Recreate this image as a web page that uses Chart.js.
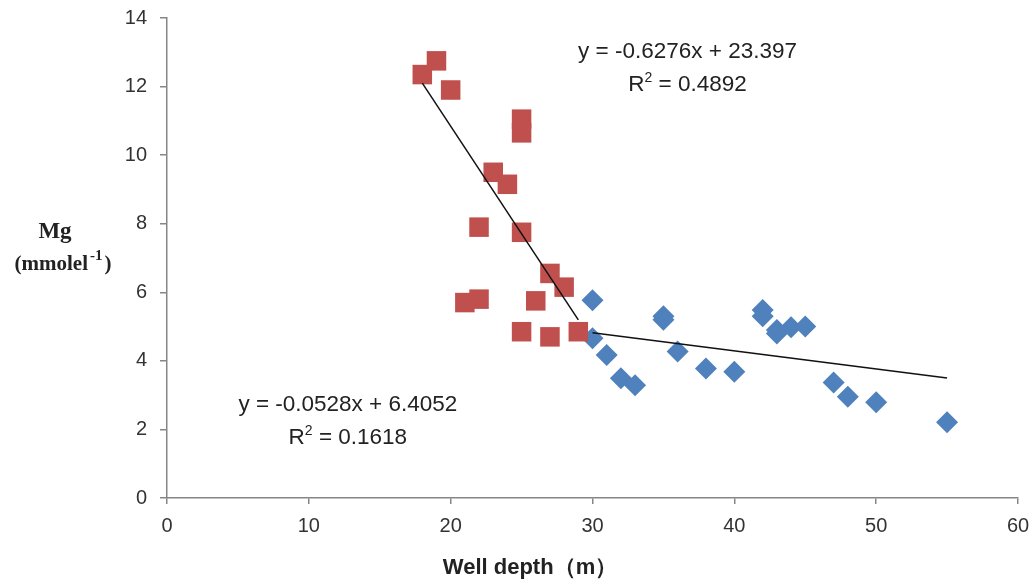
<!DOCTYPE html>
<html>
<head>
<meta charset="utf-8">
<script src="https://cdn.jsdelivr.net/npm/chart.js@4.4.0/dist/chart.umd.min.js"></script>
<style>
  html, body { margin: 0; padding: 0; background: #ffffff; }
  #wrap { width: 1036px; height: 586px; position: relative; }
</style>
</head>
<body>
<div id="wrap"><canvas id="c" width="1036" height="586"></canvas></div>
<script>
// ---- Data ----
const depthRed = [18, 19, 20, 25, 25, 23, 24, 22, 25, 27, 28, 21, 22, 26, 25, 27, 29];
const mgRed    = [12.35, 12.75, 11.9, 11.05, 10.65, 9.5, 9.15, 7.9, 7.75, 6.55, 6.15, 5.7, 5.8, 5.75, 4.85, 4.7, 4.85];

const depthBlue = [30, 30, 31, 32, 33, 35, 35, 36, 38, 40, 42, 42, 43, 43, 44, 45, 47, 48, 50, 55];
const mgBlue    = [5.77, 4.66, 4.17, 3.49, 3.29, 5.3, 5.2, 4.27, 3.78, 3.68, 5.48, 5.3, 4.9, 4.8, 4.98, 5.0, 3.37, 2.95, 2.79, 2.21];

// Trendline equations (as printed on the chart)
const trendRed  = { slope: -0.6276, intercept: 23.397, r2: '0.4892', from: 18, to: 29 };
const trendBlue = { slope: -0.0528, intercept: 6.4052, r2: '0.1618', from: 30, to: 55 };

const xTicks = [0, 10, 20, 30, 40, 50, 60];
const yTicks = [0, 2, 4, 6, 8, 10, 12, 14];

const xTitle = 'Well depth（m）';
const yTitleMain = 'Mg';

function pts(xs, ys) { return xs.map((x, i) => ({ x: x, y: ys[i] })); }
function trendPts(t) {
  return [t.from, t.to].map(x => ({ x: x, y: t.slope * x + t.intercept }));
}

const RED = '#C0504D';
const BLUE = '#4F81BD';
const AXIS = '#868686';
const TICKFONT = { family: "'Liberation Sans', Arial, sans-serif", size: 20 };
const EQF = "22.5px 'Liberation Sans', Arial, sans-serif";
const EQS = "14px 'Liberation Sans', Arial, sans-serif";

const labelsPlugin = {
  id: 'labels',
  afterDraw(chart) {
    const ctx = chart.ctx;
    const xs = chart.scales.x, ys = chart.scales.y;
    ctx.save();
    ctx.fillStyle = '#222';
    ctx.textBaseline = 'middle';

    function eq(t, cx, cy) {
      const s = 'y = ' + t.slope + 'x + ' + t.intercept;
      ctx.font = EQF;
      ctx.textAlign = 'center';
      ctx.fillText(s, cx, cy);
      // R² line
      const a = 'R', b = ' = ' + t.r2;
      const wa = ctx.measureText(a).width;
      ctx.font = EQS;
      const w2 = ctx.measureText('2').width;
      ctx.font = EQF;
      const wb = ctx.measureText(b).width;
      const tot = wa + w2 + wb;
      const x0 = cx - tot / 2;
      ctx.textAlign = 'left';
      ctx.fillText(a, x0, cy + 33);
      ctx.font = EQS;
      ctx.fillText('2', x0 + wa, cy + 26);
      ctx.font = EQF;
      ctx.fillText(b, x0 + wa + w2, cy + 33);
    }
    // Equation labels positioned relative to axis values
    eq(trendRed, xs.getPixelForValue(36.7), ys.getPixelForValue(13.0));
    eq(trendBlue, xs.getPixelForValue(12.75), ys.getPixelForValue(2.71));

    // X axis title
    ctx.font = "bold 22px 'Liberation Sans Narrow', 'Liberation Sans', Arial, sans-serif";
    ctx.fillStyle = '#222';
    ctx.textAlign = 'center';
    ctx.fillText(xTitle, 530, 568);

    // Y axis title (horizontal, serif bold)
    ctx.font = "bold 23px 'Liberation Serif', 'Times New Roman', serif";
    ctx.fillText(yTitleMain, 55, 232);
    ctx.textAlign = 'left';
    const p1 = '(mmolel', sup = '-1', p2 = ')';
    const F1 = "bold 21px 'Liberation Serif', 'Times New Roman', serif";
    const F2 = "bold 15px 'Liberation Serif', 'Times New Roman', serif";
    ctx.font = F1;
    const w1 = ctx.measureText(p1).width;
    ctx.font = F2;
    const ws = ctx.measureText(sup).width + 4;
    ctx.font = F1;
    const w3 = ctx.measureText(p2).width;
    const x0 = 63 - (w1 + ws + w3) / 2;
    ctx.fillText(p1, x0, 265);
    ctx.font = F2;
    ctx.fillText(sup, x0 + w1 + 2, 256);
    ctx.font = F1;
    ctx.fillText(p2, x0 + w1 + ws, 265);
    ctx.restore();
  }
};

new Chart(document.getElementById('c'), {
  type: 'scatter',
  data: {
    datasets: [
      { label: 'trend red', type: 'line', data: trendPts(trendRed), borderColor: '#111', borderWidth: 1.5,
        pointRadius: 0, fill: false, order: 0 },
      { label: 'trend blue', type: 'line', data: trendPts(trendBlue), borderColor: '#111', borderWidth: 1.5,
        pointRadius: 0, fill: false, order: 0 },
      { label: 'red', data: pts(depthRed, mgRed), pointStyle: 'rect', pointRadius: 13.8,
        backgroundColor: RED, borderColor: RED, borderWidth: 0, order: 1 },
      { label: 'blue', data: pts(depthBlue, mgBlue), pointStyle: 'rectRot', pointRadius: 11,
        backgroundColor: BLUE, borderColor: BLUE, borderWidth: 0, order: 2 }
    ]
  },
  options: {
    responsive: false,
    animation: false,
    events: [],
    layout: { padding: { left: 0, right: 18, top: 18, bottom: 0 } },
    plugins: { legend: { display: false }, tooltip: { enabled: false } },
    scales: {
      x: {
        type: 'linear', min: 0, max: 60,
        afterFit(s) { s.height = 88; s.paddingLeft = 0; s.paddingRight = 0; },
        afterBuildTicks(s) { s.ticks = xTicks.map(v => ({ value: v })); },
        ticks: { color: '#333', font: TICKFONT, padding: 10 },
        grid: { drawOnChartArea: false, drawTicks: true, tickLength: 6, color: AXIS, lineWidth: 1.5 },
        border: { color: AXIS, width: 1.5 }
      },
      y: {
        type: 'linear', min: 0, max: 14,
        afterFit(s) { s.width = 167; s.paddingTop = 0; s.paddingBottom = 0; },
        afterBuildTicks(s) { s.ticks = yTicks.map(v => ({ value: v })); },
        ticks: { color: '#333', font: TICKFONT, padding: 13 },
        grid: { drawOnChartArea: false, drawTicks: true, tickLength: 7, color: AXIS, lineWidth: 1.5 },
        border: { color: AXIS, width: 1.5 }
      }
    }
  },
  plugins: [labelsPlugin]
});
</script>
</body>
</html>
